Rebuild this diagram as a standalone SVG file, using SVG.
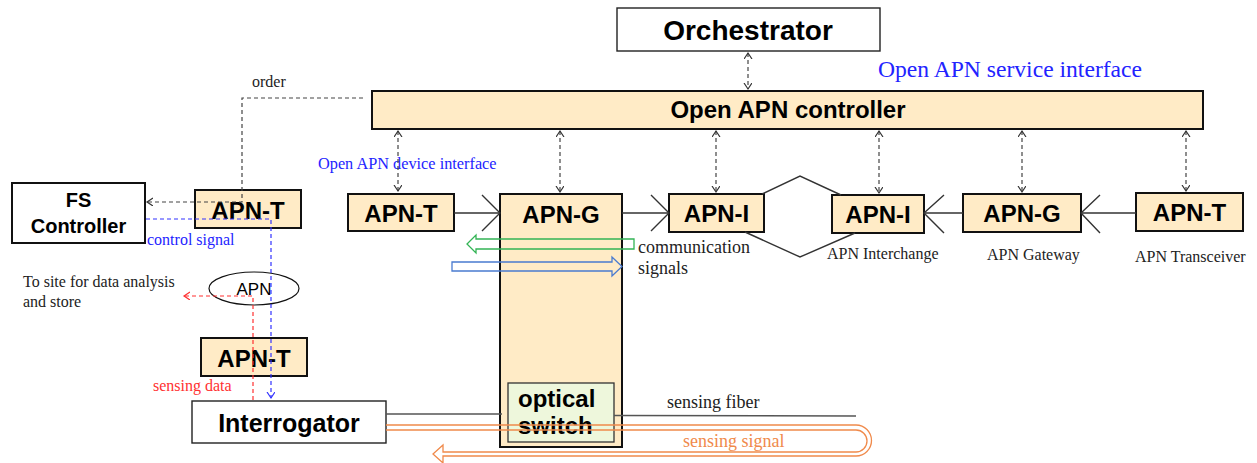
<svg xmlns="http://www.w3.org/2000/svg" width="1257" height="463" viewBox="0 0 1257 463">
<style>
.bx{fill:#FFEBC6;stroke:#111;stroke-width:2}
.wb{fill:#fff;stroke:#222;stroke-width:1.4}
.nt{font-family:"Liberation Sans",Arial,sans-serif;font-weight:bold;font-size:24px;fill:#000;text-anchor:middle}
.tm{font-family:"Liberation Serif","Times New Roman",serif;font-size:16px;fill:#222}
.ctl{fill:none;stroke:#444;stroke-width:1.2;stroke-dasharray:4 3}
.flow{fill:none;stroke:#333;stroke-width:1.4}
</style>
<defs>
<marker id="ah" markerUnits="userSpaceOnUse" markerWidth="10" markerHeight="10" refX="6" refY="4" orient="auto-start-reverse"><path d="M0,0 L6,4 L0,8" fill="none" stroke="#333" stroke-width="1.2"/></marker>
<marker id="ahb" markerUnits="userSpaceOnUse" markerWidth="10" markerHeight="10" refX="6" refY="4" orient="auto"><path d="M0,0 L6,4 L0,8" fill="none" stroke="#3333FF" stroke-width="1.2"/></marker>
<marker id="ahr" markerUnits="userSpaceOnUse" markerWidth="10" markerHeight="10" refX="6" refY="4" orient="auto"><path d="M0,0 L6,4 L0,8" fill="none" stroke="#FF3030" stroke-width="1.2"/></marker>
</defs>

<g id="orchestrator"><rect class="wb" x="617" y="8" width="263" height="43"/><text class="nt" x="748" y="40" style="font-size:28px">Orchestrator</text></g>
<g id="controller"><rect class="bx" x="372" y="91" width="831" height="38" stroke-width="1.6"/><text class="nt" x="788" y="118">Open APN controller</text></g>

<g id="labels">
<text x="878" y="77" font-family="Liberation Serif, serif" font-size="23.6" fill="#2323FF">Open APN service interface</text>
<text x="318" y="169" font-family="Liberation Serif, serif" font-size="16.3" fill="#2323FF">Open APN device interface</text>
<text class="tm" x="252" y="87">order</text>
<text x="147" y="245" font-family="Liberation Serif, serif" font-size="16" fill="#2323FF">control signal</text>
<text class="tm" x="23" y="287">To site for data analysis</text>
<text class="tm" x="23" y="307">and store</text>
<text x="153" y="391" font-family="Liberation Serif, serif" font-size="16" fill="#FF3030">sensing data</text>
<text class="tm" x="638" y="253" style="font-size:18px">communication</text>
<text class="tm" x="638" y="274" style="font-size:18px">signals</text>
<text class="tm" x="667" y="408" style="font-size:18px">sensing fiber</text>
<text x="683" y="447" font-family="Liberation Serif, serif" font-size="18" fill="#F08A4B">sensing signal</text>
<text class="tm" x="827" y="259">APN Interchange</text>
<text class="tm" x="987" y="260">APN Gateway</text>
<text class="tm" x="1135" y="262">APN Transceiver</text>
</g>

<g id="apn-g-main"><rect class="bx" x="500" y="194" width="122" height="253"/><text class="nt" x="561" y="223">APN-G</text></g>
<g id="optical-switch"><rect x="508" y="383" width="106" height="59" fill="#EEF7DC" stroke="#333" stroke-width="1.3"/>
<text class="nt" x="518" y="407" style="text-anchor:start">optical</text><text class="nt" x="518" y="434" style="text-anchor:start">switch</text></g>

<g id="apn-t-1"><rect class="bx" x="348" y="194" width="106" height="37"/><text class="nt" x="401" y="222">APN-T</text></g>
<g id="apn-i-1"><rect class="bx" x="669" y="194" width="95" height="38"/><text class="nt" x="716.5" y="222">APN-I</text></g>
<g id="apn-i-2"><rect class="bx" x="832" y="195" width="92" height="38"/><text class="nt" x="878" y="223">APN-I</text></g>
<g id="apn-g-2"><rect class="bx" x="963" y="194" width="118" height="38"/><text class="nt" x="1022" y="222">APN-G</text></g>
<g id="apn-t-2"><rect class="bx" x="1136" y="193" width="107" height="38"/><text class="nt" x="1189.5" y="221">APN-T</text></g>

<g id="fs-controller"><rect x="12" y="183" width="133" height="60" fill="#fff" stroke="#111" stroke-width="2"/>
<text class="nt" x="78.5" y="207" style="font-size:20px">FS</text><text class="nt" x="78.5" y="233" style="font-size:20px">Controller</text></g>
<g id="apn-t-fs"><rect class="bx" x="195" y="190" width="106" height="38"/><text class="nt" x="248" y="219">APN-T</text></g>
<g id="apn-cloud"><ellipse cx="254" cy="288.5" rx="45" ry="16.5" fill="#fff" stroke="#111" stroke-width="1.2"/><text x="254" y="295" text-anchor="middle" font-family="Liberation Sans, sans-serif" font-size="17">APN</text></g>
<g id="apn-t-3"><rect class="bx" x="201" y="338" width="106" height="38"/><text class="nt" x="254" y="367">APN-T</text></g>
<g id="interrogator"><rect class="wb" x="192" y="401" width="194" height="42"/><text class="nt" x="289" y="432" style="font-size:25px">Interrogator</text></g>

<g id="connectors">
<line class="ctl" x1="748" y1="53" x2="748" y2="89" marker-start="url(#ah)" marker-end="url(#ah)"/>
<line class="ctl" x1="398" y1="131" x2="398" y2="191" marker-start="url(#ah)" marker-end="url(#ah)"/>
<line class="ctl" x1="560" y1="131" x2="560" y2="192" marker-start="url(#ah)" marker-end="url(#ah)"/>
<line class="ctl" x1="716" y1="131" x2="716" y2="192" marker-start="url(#ah)" marker-end="url(#ah)"/>
<line class="ctl" x1="879" y1="131" x2="879" y2="193" marker-start="url(#ah)" marker-end="url(#ah)"/>
<line class="ctl" x1="1022" y1="131" x2="1022" y2="192" marker-start="url(#ah)" marker-end="url(#ah)"/>
<line class="ctl" x1="1186" y1="131" x2="1186" y2="191" marker-start="url(#ah)" marker-end="url(#ah)"/>

<path class="ctl" d="M363,98 H242 V202 H147" marker-end="url(#ah)"/>
<path d="M146,219 H271 V398" fill="none" stroke="#3333FF" stroke-width="1.2" stroke-dasharray="4 3" marker-end="url(#ahb)"/>
<path d="M253,400 V296 H184" fill="none" stroke="#FF3030" stroke-width="1.2" stroke-dasharray="4 3" marker-end="url(#ahr)"/>

<line class="flow" x1="454" y1="213" x2="500" y2="213"/><polyline class="flow" points="482,195 500,213 482,231"/>
<line class="flow" x1="622" y1="213" x2="669" y2="213"/><polyline class="flow" points="651,195 669,213 651,231"/>
<line class="flow" x1="963" y1="213" x2="924" y2="213"/><polyline class="flow" points="944,195 924,213 944,233"/>
<line class="flow" x1="1136" y1="213" x2="1081" y2="213"/><polyline class="flow" points="1100,195 1081,213 1100,233"/>
<polyline class="flow" points="762,194 800,176 841,195"/>
<polyline class="flow" points="745,232 800,257 855,233"/>

<path d="M634,239 H476 V235 L467,244 L476,253 V249 H634 Z" fill="none" stroke="#33B455" stroke-width="1.3"/>
<path d="M452,262 H612 V257 L622,266.5 L612,276 V271 H452 Z" fill="none" stroke="#4A7BD0" stroke-width="1.3"/>

<line x1="386" y1="414" x2="502" y2="414" stroke="#555" stroke-width="1.4"/>
<line x1="614" y1="415.5" x2="856" y2="416" stroke="#555" stroke-width="1.4"/>
<path d="M386,425 H856 A15.5,15.5 0 0 1 856,456 H443 V463 L433,454 L443,445 V452 H856 A11,11 0 0 0 856,430 H386" fill="none" stroke="#F08A4B" stroke-width="1.3"/>
</g>
</svg>
